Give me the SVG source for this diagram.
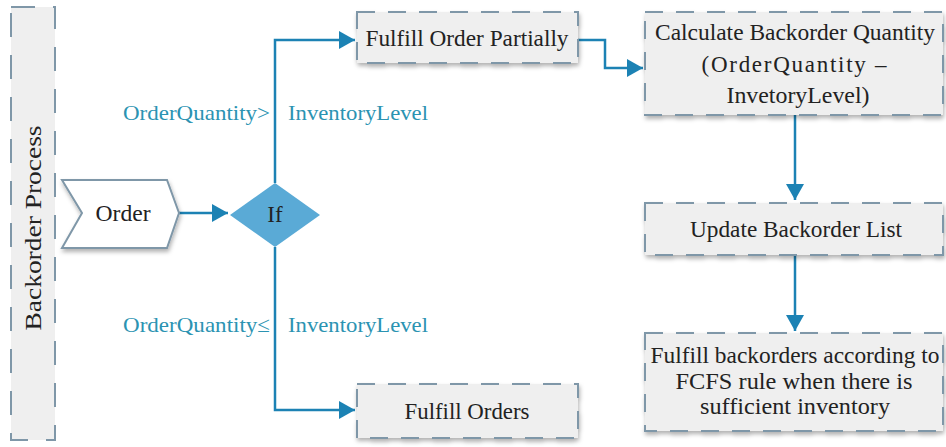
<svg xmlns="http://www.w3.org/2000/svg" width="946" height="447" viewBox="0 0 946 447">
<defs>
<filter id="sh" x="-10%" y="-20%" width="130%" height="150%">
<feDropShadow dx="1" dy="3" stdDeviation="2" flood-color="#000" flood-opacity="0.3"/>
</filter>
<marker id="ah" markerWidth="16" markerHeight="18" refX="16" refY="9" orient="auto" markerUnits="userSpaceOnUse">
<path d="M0,0 L16,9 L0,18 Z" fill="#1c82b4"/>
</marker>
<style>
.box{fill:#efefef;stroke:#7f97a8;stroke-width:2;stroke-dasharray:18 13;filter:url(#sh)}
.t{font-family:"Liberation Serif",serif;font-size:23px;fill:#222;text-anchor:middle}
.lbl{font-family:"Liberation Serif",serif;font-size:22px;fill:#2b93b2}
.c{fill:none;stroke:#1c82b4;stroke-width:2.5}
</style>
</defs>
<rect width="946" height="447" fill="#fff"/>
<g id="lane">
<rect x="11" y="7" width="44" height="433" fill="#efefef" stroke="#7f97a8" stroke-width="2" stroke-dasharray="24 18"/>
<text class="t" transform="translate(41,228) rotate(-90)" font-size="24" textLength="205" lengthAdjust="spacingAndGlyphs">Backorder Process</text>
</g>
<g id="connectors">
<path class="c" d="M178,213 L228,213" marker-end="url(#ah)"/>
<path class="c" d="M275,183 L275,40 L355,40" marker-end="url(#ah)"/>
<path class="c" d="M275,247 L275,410 L355,410" marker-end="url(#ah)"/>
<path class="c" d="M578,40 L605,40 L605,68 L643,68" marker-end="url(#ah)"/>
<path class="c" d="M795,115 L795,200" marker-end="url(#ah)"/>
<path class="c" d="M795,255 L795,331" marker-end="url(#ah)"/>
</g>
<g id="order">
<polygon points="62,180 167,180 179,213 167,248 62,248 82,213" fill="#fff" stroke="#7f97a8" stroke-width="2" filter="url(#sh)"/>
<text class="t" x="123" y="221" textLength="55" lengthAdjust="spacingAndGlyphs">Order</text>
</g>
<g id="if">
<polygon points="230,215 275,183 320,215 275,247" fill="#5aaad6"/>
<text class="t" x="275" y="222">If</text>
</g>
<g id="label-gt">
<text class="lbl" x="123" y="120" textLength="147" lengthAdjust="spacingAndGlyphs">OrderQuantity&gt;</text>
<text class="lbl" x="288" y="120" textLength="140" lengthAdjust="spacingAndGlyphs">InventoryLevel</text>
</g>
<g id="label-le">
<text class="lbl" x="123" y="332" textLength="147" lengthAdjust="spacingAndGlyphs">OrderQuantity≤</text>
<text class="lbl" x="288" y="332" textLength="140" lengthAdjust="spacingAndGlyphs">InventoryLevel</text>
</g>
<g id="partial">
<rect class="box" x="357" y="12" width="221" height="51"/>
<text class="t" x="467" y="46" textLength="203" lengthAdjust="spacingAndGlyphs">Fulfill Order Partially</text>
</g>
<g id="calc">
<rect class="box" x="645" y="12" width="298" height="103"/>
<text class="t" x="795" y="40" textLength="280" lengthAdjust="spacingAndGlyphs">Calculate Backorder Quantity</text>
<text class="t" x="794" y="72" textLength="185" lengthAdjust="spacing">(OrderQuantity –</text>
<text class="t" x="798" y="103" textLength="143" lengthAdjust="spacingAndGlyphs">InvetoryLevel)</text>
</g>
<g id="update">
<rect class="box" x="645" y="203" width="298" height="52"/>
<text class="t" x="796" y="237" textLength="212" lengthAdjust="spacingAndGlyphs">Update Backorder List</text>
</g>
<g id="fulfill-back">
<rect class="box" x="645" y="333" width="298" height="98"/>
<text class="t" x="795" y="363" textLength="289" lengthAdjust="spacingAndGlyphs">Fulfill backorders according to</text>
<text class="t" x="794" y="389" textLength="237" lengthAdjust="spacingAndGlyphs">FCFS rule when there is</text>
<text class="t" x="795" y="414" textLength="190" lengthAdjust="spacingAndGlyphs">sufficient inventory</text>
</g>
<g id="fulfill">
<rect class="box" x="357" y="384" width="221" height="54"/>
<text class="t" x="467" y="419" textLength="125" lengthAdjust="spacingAndGlyphs">Fulfill Orders</text>
</g>
</svg>
